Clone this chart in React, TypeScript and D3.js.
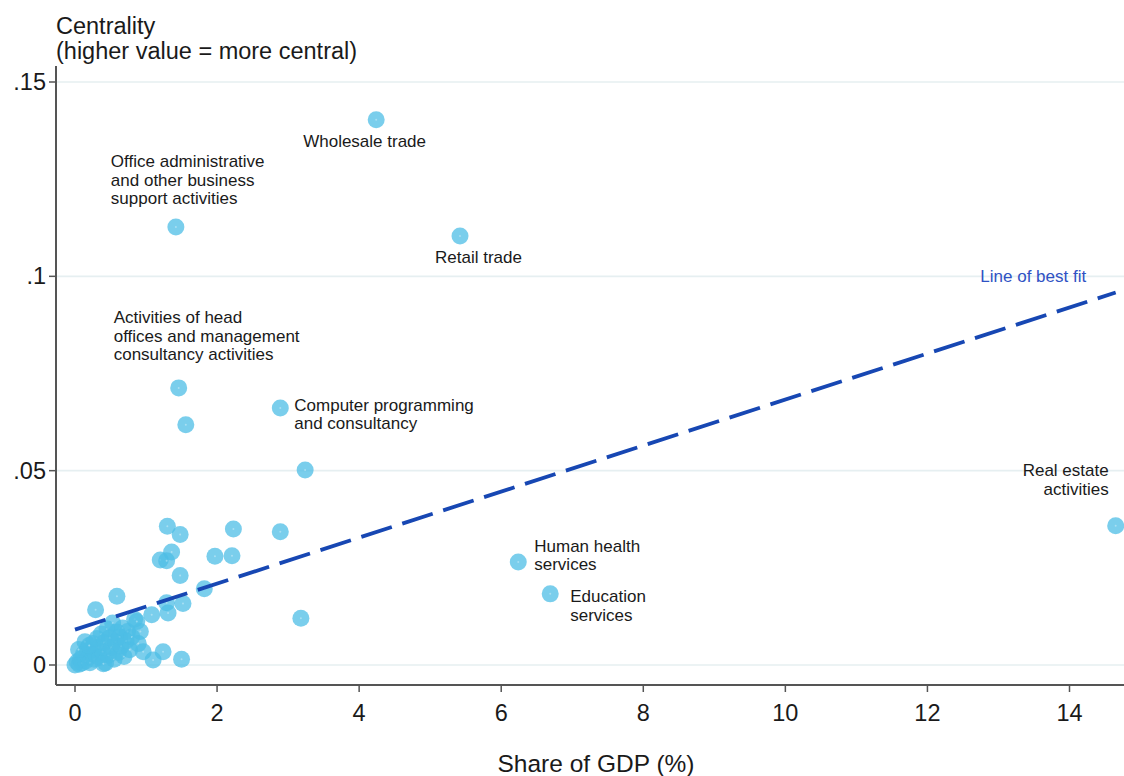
import React from "react";
import * as d3 from "d3";

// Labelled industries: share of GDP (%) and network centrality
const labelledSectors = [
  "Wholesale trade",
  "Office administrative and other business support activities",
  "Retail trade",
  "Activities of head offices and management consultancy activities",
  "Computer programming and consultancy",
  "Real estate activities",
  "Human health services",
  "Education services",
];
const labelledShare = [4.24, 1.42, 5.42, 1.46, 2.89, 14.65, 6.24, 6.69];
const labelledCentrality = [0.1403, 0.1127, 0.1104, 0.0713, 0.0661, 0.0358, 0.0265, 0.0183];

// Remaining (unlabelled) industries
const otherShare = [
  0.0, 0.03, 0.06, 0.08, 0.1, 0.12, 0.15, 0.17, 0.19, 0.21, 0.23, 0.25, 0.27, 0.29, 0.31,
  0.33, 0.35, 0.37, 0.39, 0.41, 0.43, 0.45, 0.47, 0.49, 0.51, 0.53, 0.55, 0.57, 0.59, 0.61,
  0.63, 0.65, 0.67, 0.69, 0.72, 0.74, 0.77, 0.8, 0.84, 0.87, 0.89, 0.92, 0.96, 0.05, 0.14,
  0.4, 0.2, 1.08, 1.1, 1.24, 1.29, 1.31, 1.5, 1.52, 0.59, 0.29, 1.2, 1.29, 1.36, 1.3, 1.48,
  2.23, 2.89, 1.97, 2.21, 1.48, 1.82, 3.18, 1.56, 3.24,
];
const otherCentrality = [
  0.0, 0.0008, 0.0002, 0.0015, 0.0005, 0.0028, 0.001, 0.0042, 0.002, 0.0006, 0.0035, 0.0055,
  0.0015, 0.0028, 0.0068, 0.0045, 0.002, 0.008, 0.0035, 0.0058, 0.0005, 0.0093, 0.0025, 0.007,
  0.0045, 0.0108, 0.0015, 0.006, 0.0085, 0.0032, 0.0072, 0.0048, 0.0095, 0.0022, 0.0062,
  0.0086, 0.0039, 0.0072, 0.0118, 0.0112, 0.0055, 0.0086, 0.0034, 0.004, 0.006, 0.0003, 0.005,
  0.0129, 0.0013, 0.0034, 0.016, 0.0134, 0.0015, 0.0158, 0.0177, 0.0142, 0.027, 0.0268, 0.0291,
  0.0357, 0.0336, 0.035, 0.0343, 0.028, 0.0281, 0.023, 0.0196, 0.012, 0.0618, 0.0502,
];

// Linear fit: centrality = intercept + slope * share
const fitIntercept = 0.0091;
const fitSlope = 0.00592;
const fitRange = [0, 14.65];

const xTicks = [0, 2, 4, 6, 8, 10, 12, 14];
const yTicks = [0, 0.05, 0.1, 0.15];

// Annotation layout (pixel offsets from each marker)
const labelLayout: Record<string, { lines: string[]; dx: number; dy: number; anchor: string }> = {
  "Wholesale trade": { lines: ["Wholesale trade"], dx: -73, dy: 22, anchor: "start" },
  "Office administrative and other business support activities": {
    lines: ["Office administrative", "and other business", "support activities"],
    dx: -65, dy: -65, anchor: "start",
  },
  "Retail trade": { lines: ["Retail trade"], dx: -25, dy: 22, anchor: "start" },
  "Activities of head offices and management consultancy activities": {
    lines: ["Activities of head", "offices and management", "consultancy activities"],
    dx: -65, dy: -70, anchor: "start",
  },
  "Computer programming and consultancy": {
    lines: ["Computer programming", "and consultancy"],
    dx: 14, dy: -3, anchor: "start",
  },
  "Real estate activities": { lines: ["Real estate", "activities"], dx: -7, dy: -55, anchor: "end" },
  "Human health services": { lines: ["Human health", "services"], dx: 16, dy: -16, anchor: "start" },
  "Education services": { lines: ["Education", "services"], dx: 20, dy: 3, anchor: "start" },
};

const W = 1124;
const H = 776;
const FONT = "'Liberation Sans', Arial, sans-serif";

export default function App() {
  const x = d3.scaleLinear().domain([0, 14]).range([75, 1069.5]);
  const y = d3.scaleLinear().domain([0, 0.15]).range([665, 82]);
  const axisX = 56;
  const axisY = 685;
  const plotTop = 66;

  const yFmt = (v: number) => (v === 0 ? "0" : String(v).replace(/^0/, ""));

  const others = otherShare.map((s, i) => ({ s, c: otherCentrality[i] }));
  const labelled = labelledShare.map((s, i) => ({
    s,
    c: labelledCentrality[i],
    name: labelledSectors[i],
  }));
  const allPoints = [...others, ...labelled];

  const fitLine = d3
    .line<number>()
    .x((s) => x(s))
    .y((s) => y(fitIntercept + fitSlope * s))(fitRange);

  const markerR = 8.5;
  const annSize = 17;
  const annStep = 18.5;

  return (
    <svg
      width={W}
      height={H}
      style={{ position: "absolute", left: 0, top: 0, background: "#fff" }}
      fontFamily={FONT}
    >
      {/* gridlines */}
      {yTicks.map((t) => (
        <line key={`g${t}`} x1={axisX} x2={W} y1={y(t)} y2={y(t)} stroke="#e6eff1" strokeWidth={1.6} />
      ))}

      {/* markers */}
      <g>
        {allPoints.map((p, i) => (
          <g key={i}>
            <circle cx={x(p.s)} cy={y(p.c)} r={markerR} fill="#4dbde6" fillOpacity={0.75} />
            <circle cx={x(p.s)} cy={y(p.c)} r={1} fill="#ffffff" fillOpacity={0.35} />
          </g>
        ))}
      </g>

      {/* line of best fit */}
      <path
        d={fitLine ?? ""}
        fill="none"
        stroke="#1747b3"
        strokeWidth={3.8}
        strokeDasharray="32 11"
      />
      <text
        x={x(13.49)}
        y={y(0.1)}
        textAnchor="middle"
        dominantBaseline="central"
        fontSize={annSize}
        fill="#2f52c4"
      >
        Line of best fit
      </text>

      {/* annotations */}
      {labelled.map((p) => {
        const lay = labelLayout[p.name];
        const px = x(p.s) + lay.dx;
        const py = y(p.c) + lay.dy;
        return (
          <text
            key={p.name}
            x={px}
            y={py}
            textAnchor={lay.anchor as any}
            fontSize={annSize}
            fill="#1a1a1a"
          >
            {lay.lines.map((ln, j) => (
              <tspan key={j} x={px} y={py + j * annStep} dominantBaseline="central">
                {ln}
              </tspan>
            ))}
          </text>
        );
      })}

      {/* axes */}
      <line x1={axisX} x2={axisX} y1={plotTop} y2={axisY} stroke="#555" strokeWidth={2} />
      <line x1={axisX} x2={W} y1={axisY} y2={axisY} stroke="#555" strokeWidth={2} />

      {yTicks.map((t) => (
        <g key={`yt${t}`}>
          <line x1={axisX - 7} x2={axisX} y1={y(t)} y2={y(t)} stroke="#555" strokeWidth={1.5} />
          <text
            x={axisX - 10}
            y={y(t)}
            textAnchor="end"
            dominantBaseline="central"
            fontSize={23.5}
            fill="#1a1a1a"
          >
            {yFmt(t)}
          </text>
        </g>
      ))}

      {xTicks.map((t) => (
        <g key={`xt${t}`}>
          <line x1={x(t)} x2={x(t)} y1={axisY} y2={axisY + 7} stroke="#555" strokeWidth={1.5} />
          <text
            x={x(t)}
            y={axisY + 28}
            textAnchor="middle"
            dominantBaseline="central"
            fontSize={23.5}
            fill="#1a1a1a"
          >
            {t}
          </text>
        </g>
      ))}

      {/* axis titles */}
      <text x={axisX} y={26} dominantBaseline="central" fontSize={23.5} fill="#1a1a1a">
        Centrality
      </text>
      <text x={axisX} y={51} dominantBaseline="central" fontSize={23.5} fill="#1a1a1a">
        (higher value = more central)
      </text>
      <text
        x={596}
        y={763}
        textAnchor="middle"
        dominantBaseline="central"
        fontSize={24.5}
        fill="#1a1a1a"
      >
        Share of GDP (%)
      </text>
    </svg>
  );
}
